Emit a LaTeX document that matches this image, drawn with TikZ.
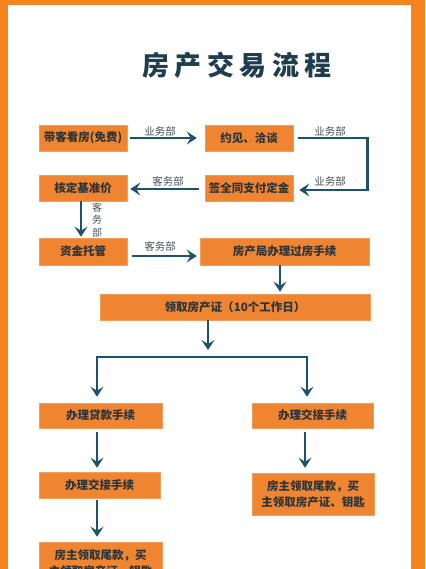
\documentclass[tikz,border=0pt]{standalone}
\usepackage{fontspec}
\newfontfamily\cjk{Noto Sans CJK SC}
\usetikzlibrary{arrows.meta,positioning,calc}
\definecolor{frameOrange}{RGB}{245,132,31}
\definecolor{stepOrange}{RGB}{239,133,48}
\definecolor{flowTeal}{RGB}{28,82,110}
\definecolor{stepText}{RGB}{43,52,58}
\definecolor{deptText}{RGB}{70,84,92}
\definecolor{titleTeal}{RGB}{30,62,78}
\newcommand{\tgap}{\hspace{5.5pt}}

\begin{document}
\begin{tikzpicture}[
  x=1pt, y=-1pt,
  font=\cjk,
  stepbox/.style={fill=stepOrange, draw=stepOrange!80!white, line width=0.6pt, minimum height=26pt, inner sep=2pt, align=center, text=stepText, font=\cjk\bfseries\fontsize{11.5}{15}\selectfont},
  flow/.style={-{Stealth[length=10pt, width=13pt, inset=4pt]}, draw=flowTeal, line width=2.8pt},
  rail/.style={draw=flowTeal, line width=2.8pt},
  dept/.style={text=deptText, font=\cjk\fontsize{10.5}{12}\selectfont, inner sep=1pt},
]
\useasboundingbox (0,0) rectangle (425,569);
\clip (0,0) rectangle (425,569);

% frame
\fill[frameOrange] (0,0) rectangle (425,569);
\fill[white] (8,5) rectangle (411,580);

\node[text=titleTeal, font=\cjk\bfseries\fontsize{27}{30}\selectfont] (title) at (237,65) {房\tgap 产\tgap 交\tgap 易\tgap 流\tgap 程};

% ======================= upper loop =======================
\node[stepbox, minimum width=88pt] (see)     at (83,138)  {带客看房(免费)};
\node[stepbox, minimum width=88pt] (meet)    at (249,138) {约见、洽谈};
\node[stepbox, minimum width=88pt] (sign)    at (249,188) {签全同支付定金};
\node[stepbox, minimum width=88pt] (price)   at (83,188)  {核定基准价};
\node[stepbox, minimum width=88pt, minimum height=27pt] (escrow)  at (83,251.5)  {资金托管};
\node[stepbox, minimum width=169pt, minimum height=27pt] (bureau) at (284.5,251.5) {房产局办理过房手续};
\node[stepbox, minimum width=270pt] (cert)   at (235,307) {领取房产证（10个工作日）};

\draw[flow, shorten <=3pt, shorten >=8pt] (see) -- (meet);
\node[dept] (d1) at (160,131) {业务部};
\draw[flow, shorten <=5pt, shorten >=6pt] (meet.east) -- ++(74,0) |- ([yshift=-2pt]sign.east);
\node[dept] (d2) at (330,131) {业务部};
\node[dept] (d3) at (330,181) {业务部};
\draw[flow, shorten <=6pt, shorten >=3pt] ([yshift=-1pt]sign.west) -- ([yshift=-1pt]price.east);
\node[dept] (d4) at (168,181) {客务部};
\draw[flow, shorten >=1pt] ([xshift=-2pt]price.south) -- ([xshift=-2pt]escrow.north);
\node[dept, align=center, font=\cjk\fontsize{10}{12.5}\selectfont] (d5) at (97,220) {客\\务\\部};
\draw[flow, shorten <=5pt, shorten >=3pt] ([yshift=-4.5pt]escrow.east) -- ([yshift=-4.5pt]bureau.west);
\node[dept] (d6) at (160,246) {客务部};
\draw[flow, shorten >=2pt] ([xshift=-4.5pt]bureau.south) -- ([xshift=-4.5pt]bureau.south |- cert.north);

% ======================= two branches =======================
\node[stepbox, minimum width=123pt, minimum height=25pt] (loan)  at (100.5,415.5) {办理贷款手续};
\node[stepbox, minimum width=121pt, minimum height=25pt] (handR) at (312.5,415.5) {办理交接手续};
\node[stepbox, minimum width=121pt] (handL) at (99.5,485) {办理交接手续};
\node[stepbox, minimum width=122pt, minimum height=42pt, font=\cjk\bfseries\fontsize{11.5}{16}\selectfont] (payR) at (313,494) {房主领取尾款，买\\主领取房产证、钥匙};
\node[stepbox, minimum width=123pt, minimum height=42pt, font=\cjk\bfseries\fontsize{11.5}{16}\selectfont] (payL) at (100.5,563) {房主领取尾款，买\\主领取房产证、钥匙};

\coordinate (fork)  at (208,357);
\coordinate (forkL) at (97,357);
\coordinate (forkR) at (307,357);
\coordinate (colR)  at (305,0);
\draw[flow] (cert.south -| fork) -- ([yshift=7pt]fork);
\draw[rail, line cap=rect] (forkL) -- (forkR);
\draw[flow, shorten >=6pt] (forkL) -- (forkL |- loan.north);
\draw[flow, shorten >=6pt] (forkR) -- (forkR |- handR.north);
\draw[flow, shorten <=4pt, shorten >=4pt] (loan.south -| forkL) -- (forkL |- handL.north);
\draw[flow, shorten <=2pt, shorten >=5pt] (handL.south -| forkL) -- (forkL |- payL.north);
\draw[flow, shorten <=4pt, shorten >=5pt] (handR.south -| colR) -- (payR.north -| colR);

\end{tikzpicture}
\end{document}
